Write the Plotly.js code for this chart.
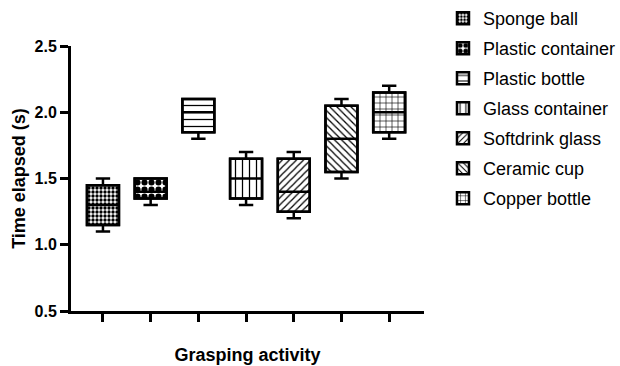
<!DOCTYPE html>
<html>
<head>
<meta charset="utf-8">
<script src="https://cdn.plot.ly/plotly-3.0.1.min.js"></script>
<style>html,body{margin:0;padding:0;background:#fff;}#chart{width:620px;height:366px;}</style>
</head>
<body>
<div id="chart"></div>
<script>
var categories = ["Sponge ball","Plastic container","Plastic bottle","Glass container","Softdrink glass","Ceramic cup","Copper bottle"];
var lowerWhisker = [1.10, 1.30, 1.80, 1.30, 1.20, 1.50, 1.80];
var q1Values     = [1.15, 1.35, 1.85, 1.35, 1.25, 1.55, 1.85];
var medianValues = [1.30, 1.40, 2.00, 1.50, 1.40, 1.80, 2.00];
var q3Values     = [1.45, 1.50, 2.10, 1.65, 1.65, 2.05, 2.15];
var upperWhisker = [1.50, 1.50, 2.10, 1.70, 1.70, 2.10, 2.20];
var yTicks = [0.5, 1.0, 1.5, 2.0, 2.5];

var patterns = [
  {shape: ".", size: 4, solidity: 0.55},
  {shape: ".", size: 7, solidity: 0.6},
  {shape: "-", size: 7, solidity: 0.18},
  {shape: "|", size: 7, solidity: 0.18},
  {shape: "/", size: 5, solidity: 0.25},
  {shape: "\\", size: 5, solidity: 0.25},
  {shape: "+", size: 6, solidity: 0.2}
];

var traces = [];
categories.forEach(function(name, i){
  traces.push({
    type: "bar",
    name: name,
    x: [i],
    y: [q3Values[i] - q1Values[i]],
    base: [q1Values[i]],
    width: 0.67,
    legendgroup: "g" + i,
    marker: {
      color: "#ffffff",
      line: {color: "#000", width: 2.5},
      pattern: {shape: patterns[i].shape, size: patterns[i].size, solidity: patterns[i].solidity, fgcolor: "#000", bgcolor: "#fff", fillmode: "replace"}
    },
    hoverinfo: "skip"
  });
});
categories.forEach(function(name, i){
  traces.push({
    type: "box",
    name: name,
    x: [i],
    q1: [q1Values[i]],
    median: [medianValues[i]],
    q3: [q3Values[i]],
    lowerfence: [lowerWhisker[i]],
    upperfence: [upperWhisker[i]],
    width: 0.67,
    whiskerwidth: 0.45,
    boxpoints: false,
    fillcolor: "rgba(0,0,0,0)",
    line: {color: "#000", width: 2.5},
    showlegend: false
  });
});

var layout = {
  width: 620, height: 366,
  margin: {l: 71, r: 196, t: 46, b: 55},
  paper_bgcolor: "#fff", plot_bgcolor: "#fff",
  barmode: "overlay", boxmode: "overlay",
  font: {family: "Liberation Sans, Arial, sans-serif", color: "#000"},
  xaxis: {
    range: [-0.67, 6.73],
    tickvals: [0,1,2,3,4,5,6],
    showticklabels: false,
    automargin: false,
    ticks: "outside", ticklen: 8, tickwidth: 3, tickcolor: "#000",
    showline: true, linewidth: 3, linecolor: "#000",
    showgrid: false, zeroline: false,
    title: {text: "Grasping activity", font: {size: 18, weight: "bold"}, standoff: 28}
  },
  yaxis: {
    range: [0.5, 2.5],
    tickvals: yTicks,
    tickformat: ".1f",
    automargin: false,
    ticks: "outside", ticklen: 8, tickwidth: 3, tickcolor: "#000",
    tickfont: {size: 16, weight: "bold"},
    showline: true, linewidth: 3, linecolor: "#000",
    showgrid: false, zeroline: false,
    title: {text: "Time elapsed (s)", font: {size: 18, weight: "bold"}, standoff: 5}
  },
  legend: {
    xref: "container", yref: "container",
    x: 0.7145, y: 1, xanchor: "left", yanchor: "top",
    font: {size: 18},
    traceorder: "grouped",
    tracegroupgap: 3.6,
    maxheight: 366,
    bgcolor: "rgba(0,0,0,0)"
  },
  showlegend: true
};

Plotly.newPlot("chart", traces, layout, {displayModeBar: false, staticPlot: true});
</script>
</body>
</html>
